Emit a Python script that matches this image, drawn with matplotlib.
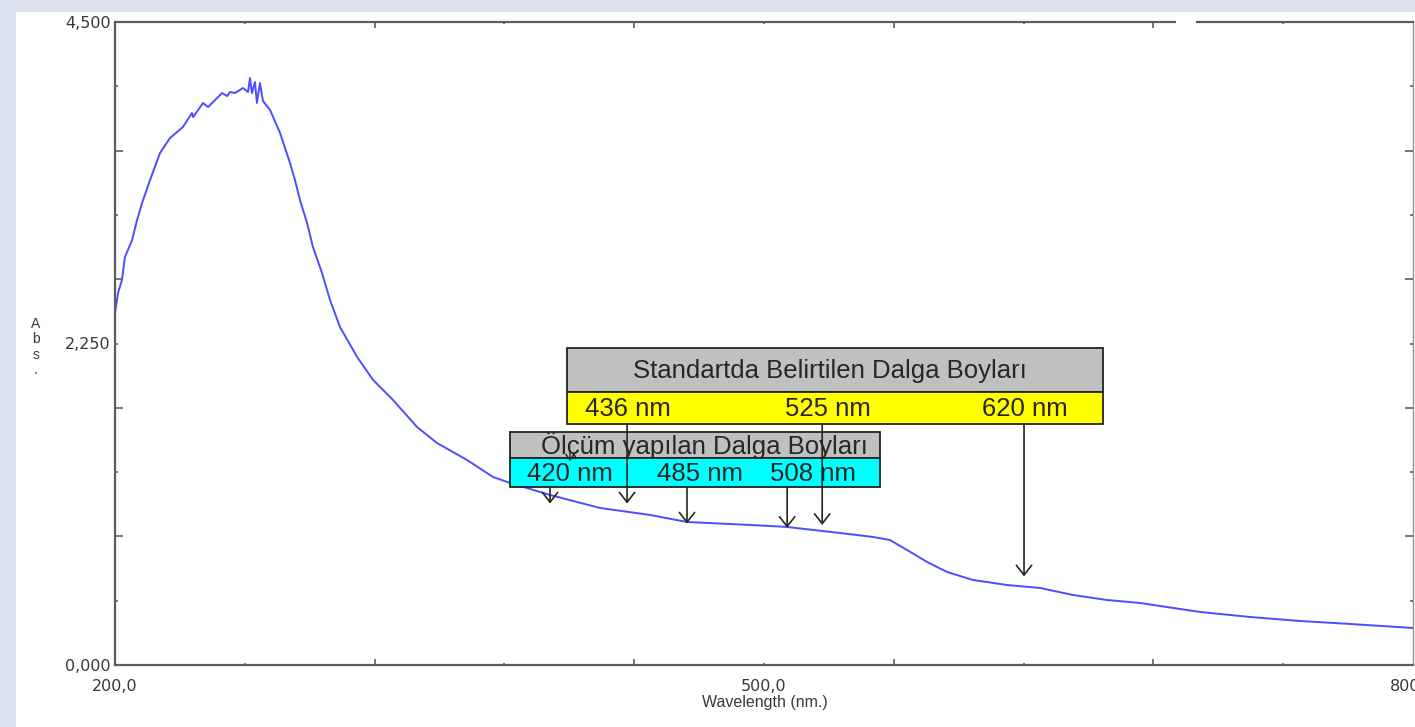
import matplotlib
matplotlib.use('Agg')
import matplotlib.pyplot as plt
import numpy as np
from matplotlib.patches import Rectangle

# ---------------- data ----------------
wavelength = [200.0, 201.4, 203.2, 204.6, 207.9, 210.2, 212.5, 216.2, 220.8, 225.4,
              231.4, 235.6, 236.1, 240.7, 243.0, 247.2, 249.5, 251.8, 253.2, 255.5,
              259.2, 261.5, 262.4, 263.3, 264.7, 265.6, 267.0, 268.4, 271.7, 276.3,
              280.9, 283.2, 285.5, 288.8, 291.5, 295.7, 299.4, 304.0, 311.9, 319.3,
              328.5, 339.6, 348.8, 362.7, 374.7, 382.6, 401.1, 424.2, 447.3, 464.4,
              493.6, 510.7, 535.1, 550.4, 558.2, 566.1, 575.4, 584.6, 596.6, 612.3,
              627.6, 642.8, 658.5, 673.8, 701.6, 724.7, 747.8, 771.0, 800.0]
absorbance = [2.463, 2.603, 2.694, 2.855, 2.974, 3.114, 3.233, 3.394, 3.583, 3.688,
              3.765, 3.863, 3.835, 3.933, 3.905, 3.968, 4.003, 3.982, 4.010, 4.003,
              4.038, 4.010, 4.108, 4.003, 4.080, 3.933, 4.073, 3.947, 3.884, 3.723,
              3.513, 3.394, 3.254, 3.093, 2.925, 2.743, 2.554, 2.365, 2.156, 1.995,
              1.855, 1.666, 1.554, 1.435, 1.316, 1.274, 1.190, 1.099, 1.050, 1.001,
              0.980, 0.966, 0.924, 0.896, 0.875, 0.805, 0.721, 0.651, 0.595, 0.560,
              0.539, 0.490, 0.455, 0.434, 0.371, 0.336, 0.308, 0.287, 0.259]

x_ticks = [200, 260, 320, 380, 440, 500, 560, 620, 680, 740, 800]
x_tick_labels = ['200,0', '', '', '', '', '500,0', '', '', '', '', '800,0']
y_ticks = [0.0, 0.45, 0.9, 1.35, 1.8, 2.25, 2.7, 3.15, 3.6, 4.05, 4.5]
y_tick_labels = ['0,000', '', '', '', '', '2,250', '', '', '', '', '4,500']
x_label = 'Wavelength (nm.)'
y_label = 'A\nb\ns\n.'

std_title = 'Standartda Belirtilen Dalga Boyları'
std_labels = ['436 nm', '525 nm', '620 nm']
std_arrow_nm = [436.7, 526.9, 620.2]
std_arrow_tip = [1.13, 0.98, 0.62]

meas_title = 'Ölçüm yapılan Dalga Boyları'
meas_labels = ['420 nm', '485 nm', '508 nm']
meas_arrow_nm = [401.1, 464.4, 510.7]
meas_arrow_tip = [1.13, 0.99, 0.96]

# ---------------- layout ----------------
W, H = 1415, 727
fig = plt.figure(figsize=(W / 100, H / 100), dpi=100)
fig.patch.set_facecolor('#dce3ef')
fig.patches.append(Rectangle((16 / W, 0), 1 - 16 / W, 1 - 12 / H, transform=fig.transFigure,
                             facecolor='white', edgecolor='none', zorder=-5))

AX_L, AX_R, AX_T, AX_B = 115, 1413, 22, 665
ax = fig.add_axes([AX_L / W, 1 - AX_B / H, (AX_R - AX_L) / W, (AX_B - AX_T) / H])
ax.set_facecolor('white')
ax.set_xlim(200, 800)
ax.set_ylim(0, 4.5)


def px2x(px):
    return 200 + (px - AX_L) * 600 / (AX_R - AX_L)


def px2y(py):
    return (AX_B - py) * 4.5 / (AX_B - AX_T)


plt.rcParams['font.family'] = ['Liberation Sans', 'DejaVu Sans']
txt_col = '#383838'
box_txt = '#262626'
BOX_FS = 18.5

ax.plot(wavelength, absorbance, color='#4d4dff', lw=1.4, zorder=2,
        solid_joinstyle='round')

# spines
for s in ['left', 'bottom', 'top']:
    ax.spines[s].set_color('#5c5c5c')
    ax.spines[s].set_linewidth(1.6)
ax.spines['right'].set_color('#8a8a8a')
ax.spines['right'].set_linewidth(0.9)

ax.set_xticks(x_ticks, labels=x_tick_labels)
ax.set_yticks(y_ticks, labels=y_tick_labels)
ax.tick_params(axis='both', direction='in', top=True, right=True, colors='#5c5c5c',
               labelcolor=txt_col, labelsize=11.5, width=1.2)
ax.tick_params(axis='x', pad=10)
ax.tick_params(axis='y', pad=3)

for v, t in zip(x_ticks, ax.xaxis.get_major_ticks()):
    k = round((v - 200) / 60)
    if v in (200, 800):
        L = 0
    elif k % 2 == 0:
        L = 4.5
    else:
        L = 1.5
    t.tick1line.set_markersize(L)
    t.tick2line.set_markersize(L)
for v, t in zip(y_ticks, ax.yaxis.get_major_ticks()):
    k = round(v / 0.45)
    if v in (0.0, 4.5):
        L = 0
    elif k % 2 == 0:
        L = 5.5
    else:
        L = 2.2
    t.tick1line.set_markersize(L)
    t.tick2line.set_markersize(L)

fig.text(765 / W, 1 - 702 / H, x_label, ha='center', va='center', fontsize=11.5, color=txt_col)
fig.text(36 / W, 1 - 347 / H, y_label, ha='center', va='center', fontsize=10,
         color=txt_col, linespacing=1.15)

# gap in the top frame line
fig.patches.append(Rectangle((1176 / W, 1 - 27 / H), 20 / W, 10 / H, transform=fig.transFigure,
                             facecolor='white', edgecolor='none', zorder=20))


# ---------------- annotation boxes ----------------
def box(l, t, r, b, fc, z):
    rect = Rectangle((px2x(l), px2y(b)), px2x(r) - px2x(l), px2y(t) - px2y(b),
                     facecolor=fc, edgecolor='#222222', lw=1.3, clip_on=False, zorder=z)
    ax.add_patch(rect)


arrow_kw = dict(arrowstyle='->,head_length=0.7,head_width=0.55', color='#26261c', lw=1.2,
                shrinkA=0, shrinkB=0, mutation_scale=10)

# standard wavelengths box
box(567, 348, 1103, 392, '#c0c0c0', 5)
box(567, 392, 1103, 424, '#ffff00', 5)
ax.text(px2x(830), px2y(371), std_title, ha='center', va='center', fontsize=BOX_FS,
        color=box_txt, zorder=6, clip_on=False)
for lab, xl in zip(std_labels, [585, 785, 982]):
    ax.text(px2x(xl), px2y(409), lab, ha='left', va='center', fontsize=BOX_FS,
            color=box_txt, zorder=6, clip_on=False)

# measured wavelengths box
box(510, 432, 880, 458, '#c0c0c0', 7)
box(510, 458, 880, 487, '#00ffff', 7)
ax.text(px2x(704), px2y(446), meas_title, ha='center', va='center', fontsize=BOX_FS,
        color=box_txt, zorder=8, clip_on=False)
for lab, xl in zip(meas_labels, [527, 657, 770]):
    ax.text(px2x(xl), px2y(474), lab, ha='left', va='center', fontsize=BOX_FS,
            color=box_txt, zorder=8, clip_on=False)

for xn, tip in zip(std_arrow_nm, std_arrow_tip):
    ax.annotate('', xy=(xn, tip), xytext=(xn, px2y(424)), arrowprops=arrow_kw,
                zorder=9, annotation_clip=False)
for xn, tip in zip(meas_arrow_nm, meas_arrow_tip):
    ax.annotate('', xy=(xn, tip), xytext=(xn, px2y(487)), arrowprops=arrow_kw,
                zorder=9, annotation_clip=False)
# small stray arrow mark inside the measured header
ax.annotate('', xy=(px2x(570), px2y(461)), xytext=(px2x(570), px2y(452)),
            arrowprops=dict(arrowstyle='->,head_length=0.4,head_width=0.3', color='#26261c',
                            lw=1.0, shrinkA=0, shrinkB=0, mutation_scale=10),
            zorder=9, annotation_clip=False)

fig.savefig('out.png', dpi=100, facecolor=fig.get_facecolor())
